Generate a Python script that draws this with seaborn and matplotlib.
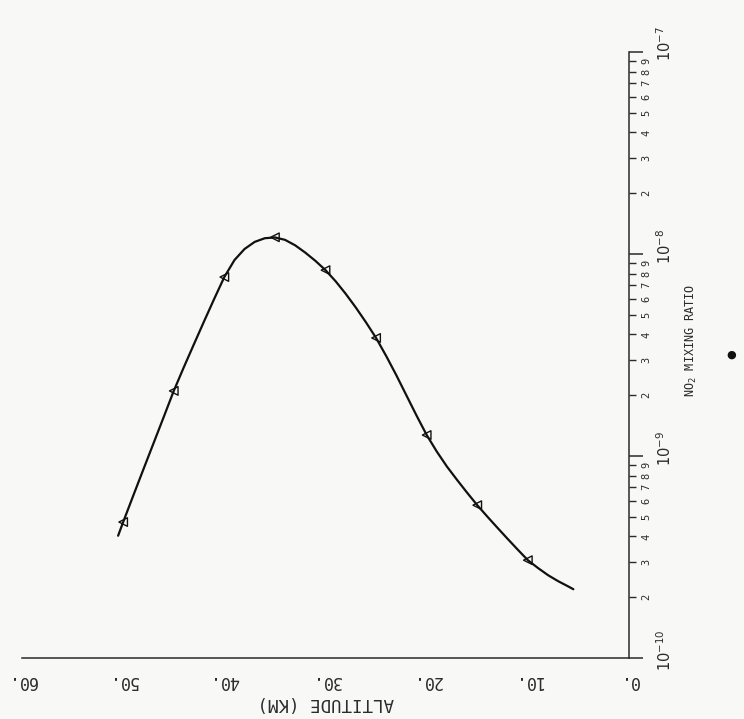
import numpy as np
import pandas as pd
import matplotlib
matplotlib.use("Agg")
import matplotlib.pyplot as plt
import seaborn as sns
from matplotlib.ticker import FixedLocator, FixedFormatter, NullFormatter

# Measured NO2 points: altitude (km) and mixing ratio
marker_alt = [50, 45, 40, 35, 30, 25, 20, 15, 10]
marker_ratio = [4.71e-10, 2.10e-9, 7.69e-9, 1.21e-8, 8.32e-9, 3.84e-9, 1.27e-9, 5.71e-10, 3.05e-10]

# Smooth profile curve drawn through the measurements
curve_alt = [50.5, 50, 49, 48, 47, 46, 45, 44, 43, 42, 41, 40, 39, 38, 37, 36, 35, 34, 33,
             32, 31, 30, 29, 28, 27, 26, 25, 24, 23, 22, 21, 20, 19, 18, 17, 16, 15, 14,
             13, 12, 11, 10, 9, 8, 7, 6, 5.5]
curve_ratio = [4.03e-10, 4.71e-10, 6.37e-10, 8.59e-10, 1.156e-9, 1.556e-9, 2.10e-9,
               2.754e-9, 3.581e-9, 4.645e-9, 5.998e-9, 7.69e-9, 9.33e-9, 1.059e-8,
               1.148e-8, 1.197e-8, 1.208e-8, 1.175e-8, 1.104e-8, 1.016e-8, 9.25e-9,
               8.32e-9, 7.33e-9, 6.35e-9, 5.43e-9, 4.59e-9, 3.84e-9, 3.126e-9, 2.512e-9,
               1.995e-9, 1.585e-9, 1.271e-9, 1.052e-9, 8.87e-10, 7.62e-10, 6.58e-10,
               5.71e-10, 5.01e-10, 4.41e-10, 3.89e-10, 3.44e-10, 3.05e-10, 2.79e-10,
               2.57e-10, 2.40e-10, 2.26e-10, 2.19e-10]

# Axis ticks and labels
alt_ticks = [60, 50, 40, 30, 20, 10, 0]
alt_labels = ["60.", "50.", "40.", "30.", "20.", "10.", "0."]
decades = [1e-10, 1e-9, 1e-8, 1e-7]
decade_labels = [r"$10^{-10}$", r"$10^{-9}$", r"$10^{-8}$", r"$10^{-7}$"]
minor_digits = [2, 3, 4, 5, 6, 7, 8, 9]

sns.set_theme(style="white")
plt.rcParams["font.family"] = ["DejaVu Sans Mono", "DejaVu Sans"]
plt.rcParams["mathtext.fontset"] = "dejavusans"

ink = "#2b2b2b"
paper = "#f8f8f6"

fig = plt.figure(figsize=(7.44, 7.19), dpi=100, facecolor=paper)
ax = fig.add_axes([22 / 744, 1 - 658 / 719, 607 / 744, 606 / 719])
ax.set_facecolor(paper)

curve = pd.DataFrame({"alt": curve_alt, "ratio": curve_ratio})
pts = pd.DataFrame({"alt": marker_alt, "ratio": marker_ratio})

sns.lineplot(data=curve, x="alt", y="ratio", ax=ax, color="#111111", linewidth=1.6,
             sort=False, estimator=None)
sns.scatterplot(data=pts, x="alt", y="ratio", ax=ax, marker="<", s=38,
                facecolor="none", edgecolor="#111111", linewidth=1.0, zorder=3)

ax.set_yscale("log")
ax.set_xlim(60, 0)
ax.set_ylim(1e-10, 1e-7)

for side in ("top", "left"):
    ax.spines[side].set_visible(False)
for side in ("bottom", "right"):
    ax.spines[side].set_color(ink)
    ax.spines[side].set_linewidth(1.1)

# Altitude axis along the bottom, labels turned upside down
ax.xaxis.set_major_locator(FixedLocator(alt_ticks))
ax.xaxis.set_major_formatter(FixedFormatter(alt_labels))
ax.tick_params(axis="x", direction="out", length=8, width=1.1, color=ink,
               labelsize=12, labelcolor=ink, pad=2, labelrotation=180)

# Mixing ratio axis on the right
ax.yaxis.tick_right()
ax.yaxis.set_label_position("right")
minor_vals = [d * m for d in decades[:-1] for m in minor_digits]
ax.yaxis.set_major_locator(FixedLocator(decades))
ax.yaxis.set_major_formatter(NullFormatter())
ax.yaxis.set_minor_locator(FixedLocator(minor_vals))
ax.yaxis.set_minor_formatter(FixedFormatter([str(m) for d in decades[:-1] for m in minor_digits]))
ax.tick_params(axis="y", which="major", direction="out", length=10, width=1.1, color=ink)
ax.tick_params(axis="y", which="minor", direction="out", length=5, width=1.0, color=ink,
               labelsize=7.5, labelcolor=ink, pad=4, labelrotation=90)
for lab in ax.get_yticklabels(minor=True):
    lab.set_verticalalignment("center")

# Decade labels beside the major ticks
for d, txt in zip(decades, decade_labels):
    ax.annotate(txt, xy=(1, d), xycoords=ax.get_yaxis_transform(),
                xytext=(26, 8), textcoords="offset pixels", rotation=90,
                ha="left", va="center", fontsize=10.5, color=ink)

ax.set_xlabel("ALTITUDE (KM)", rotation=180, fontsize=12.5, color=ink, labelpad=3)
ylab = ax.set_ylabel("NO$_2$ MIXING RATIO", rotation=90, fontsize=8.5, color=ink)
ylab.set_rotation_mode("default")
ylab.set_ha("center")
ylab.set_va("center")
ax.yaxis.set_label_coords((691 - 22) / 607, (658 - 340) / 606)

fig.text(731 / 744, 1 - 355 / 719, "\u25CF", fontsize=8, color="#111111",
         ha="center", va="center", family="DejaVu Sans")

fig.savefig("out.png", dpi=100, facecolor=paper)
